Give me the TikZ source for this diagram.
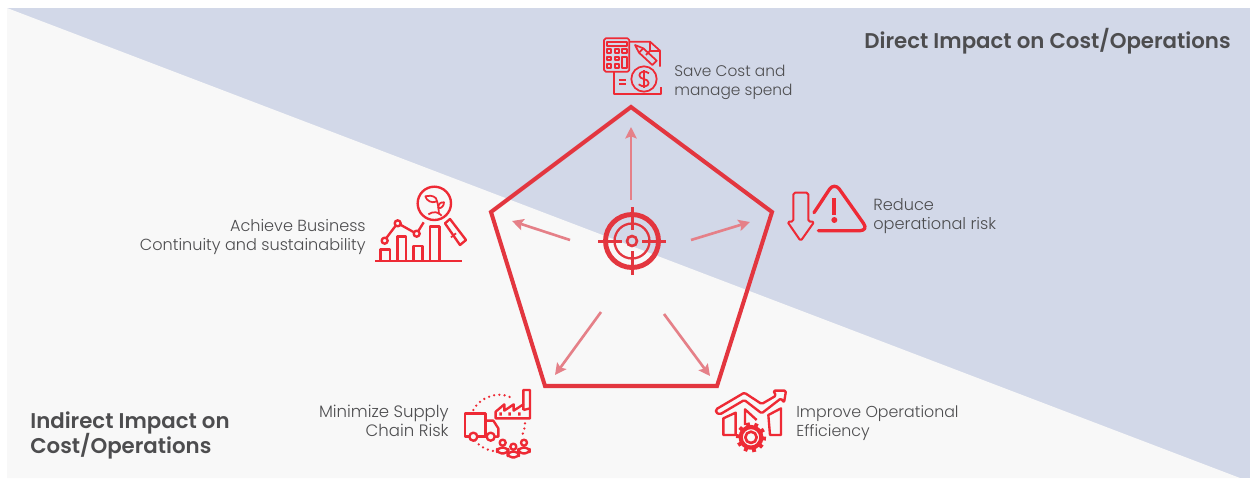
\documentclass[tikz,border=0pt]{standalone}
\usepackage{fontspec}
\setmainfont{Poppins}
\newfontfamily\lablight{Poppins Light}
\newfontfamily\headbold{Poppins SemiBold}
\definecolor{bgblue}{HTML}{D2D8E8}
\definecolor{bggrey}{HTML}{F8F8F8}
\definecolor{penta}{HTML}{E3363F}
\definecolor{icon}{HTML}{EE2A35}
\definecolor{ray}{HTML}{E58088}
\definecolor{txt}{HTML}{4D4D4F}
\usetikzlibrary{arrows.meta}
\newcommand{\myheadfont}{\headbold\fontsize{12.13}{14.2}\selectfont\setlength{\lineskiplimit}{-6pt}}
\tikzset{
  lab/.style={font=\lablight\fontsize{#1}{10.9}\selectfont,text=txt,inner sep=0pt},
  head/.style={font=\myheadfont,text=txt,inner sep=0pt},
  rayline/.style={draw=ray,line width=1.5pt,-{Stealth[length=6.5pt,width=6.5pt,inset=1.2pt]}},
  ic/.style={draw=icon,line width=1.35pt,line join=round,fill=none},
  icthin/.style={draw=icon,line width=1pt,line join=round,fill=none},
  dots/.style={draw=icon,line width=1.45pt,line cap=round,dash pattern=on 0pt off 3pt},
  tgt/.style={draw=penta,fill=none}
}
\begin{document}
\begin{tikzpicture}[x=0.02cm,y=-0.02cm]
\useasboundingbox (0,0) rectangle (1250,478);
\fill[bgblue] (7,8) rectangle (1250,478);
\fill[bggrey] (7,8) -- (1240,478) -- (7,478) -- cycle;
% pentagon
\coordinate (pt) at (631,107);
\coordinate (pr) at (772,212);
\coordinate (pbr) at (717,386);
\coordinate (pbl) at (545,386);
\coordinate (pl) at (491,212);
\draw[penta,line width=2.3pt,line join=miter] (pt) -- (pr) -- (pbr) -- (pbl) -- (pl) -- cycle;
% rays
\coordinate (a1s) at (631,200); \coordinate (a1e) at (631,127);
\coordinate (a2s) at (691,240); \coordinate (a2e) at (750,222);
\coordinate (a3s) at (570,240); \coordinate (a3e) at (512,221);
\coordinate (a4s) at (601,312); \coordinate (a4e) at (555,375);
\coordinate (a5s) at (664,314); \coordinate (a5e) at (710,376);
\draw[rayline] (a1s) -- (a1e);
\draw[rayline] (a2s) -- (a2e);
\draw[rayline] (a3s) -- (a3e);
\draw[rayline] (a4s) -- (a4e);
\draw[rayline] (a5s) -- (a5e);
% target
\begin{scope}[shift={(632,241)}]
\draw[tgt,line width=2.8pt] (0,0) circle (26.5);
\draw[tgt,line width=1.3pt] (0,0) circle (17.5);
\draw[tgt,line width=1.5pt] (0,0) circle (5);
\draw[tgt,line width=1.7pt] (-34,0) -- (-10,0) (10,0) -- (34,0) (0,-34) -- (0,-11) (0,10) -- (0,34);
\end{scope}
% icon 1
\begin{scope}[shift={(590,20)},scale=1/3]
\draw[icthin,rounded corners=1pt] (42,55) rectangle (118,155);
\draw[icthin] (52,65) rectangle (110,78);
\foreach \x in {52,74} \foreach \y in {87,110,133} \draw[icthin] (\x,\y) rectangle ++(12,11);
\draw[icthin] (97,87) rectangle (110,98);
\draw[icthin] (97,110) rectangle (110,145);
\draw[icthin] (118,65) -- (180,65) -- (210,92) -- (210,140);
\draw[icthin] (180,65) -- (180,92) -- (210,92);
\draw[icthin] (72,155) -- (72,222) -- (212,222) -- (212,200);
\draw[icthin] (135,75) -- (160,85) -- (200,122) -- (187,135) -- (147,98) -- cycle;
\draw[icthin] (147,98) -- (160,85) (168,105) -- (180,92);
\draw[icthin] (162,177) circle (38);
\draw[icthin] (177,160) .. controls (165,150) and (148,155) .. (148,166) .. controls (148,180) and (176,174) .. (176,189) .. controls (176,200) and (158,203) .. (146,193);
\draw[icthin] (161,150) -- (161,205);
\draw[icthin,line width=1.1pt] (88,180) -- (108,180) (88,193) -- (108,193);
\end{scope}
% icon 2
\begin{scope}[shift={(770,170)},scale=1/3]
\draw[ic,line width=1.15pt,rounded corners=1pt] (70,68) -- (115,68) -- (115,155) -- (133,155) -- (92,213) -- (52,155) -- (70,155) -- cycle;
\draw[ic,line width=1.9pt,rounded corners=5pt,line cap=round] (132,128) -- (193,36) -- (296,182) -- (145,182);
\draw[icon,line width=2.4pt] (193,85) -- (193,135);
\fill[icon] (193,150) circle (9);
\end{scope}
% icon 3
\begin{scope}[shift={(370,175)},scale=1/3]
\draw[ic] (15,258) -- (275,258);
\draw[ic] (32,258) -- (32,223) -- (60,223) -- (60,258);
\draw[ic] (82,258) -- (82,185) -- (108,185) -- (108,258);
\draw[ic] (130,258) -- (130,213) -- (157,213) -- (157,258);
\draw[ic] (180,258) -- (180,155) -- (208,155) -- (208,258);
\draw[ic] (44,197) circle (9) (83,145) circle (9) (140,176) circle (9);
\draw[ic] (49,189) -- (77,152) (91,149) -- (132,172) (145,168) -- (161,142);
\draw[ic] (193,85) circle (50);
\draw[ic] (225,145) -- (240,132) -- (288,195) -- (270,210) -- cycle;
\draw[icthin] (258,175) -- (243,187);
\draw[icthin] (207,118) .. controls (205,95) and (205,88) .. (198,70) .. controls (190,60) and (175,62) .. (166,64) .. controls (170,78) and (185,85) .. (198,80);
\draw[icthin] (205,100) .. controls (215,100) and (222,92) .. (222,82) .. controls (212,80) and (203,88) .. (205,100);
\draw[icthin] (175,118) .. controls (190,108) and (205,110) .. (215,122);
\end{scope}
% icon 4
\begin{scope}[shift={(455,380)},scale=1/3]
\draw[dots] (55,90) .. controls (75,50) and (135,30) .. (172,55);
\draw[dots] (210,130) .. controls (210,145) and (205,160) .. (197,175);
\draw[dots] (60,182) .. controls (75,200) and (95,210) .. (115,213);
\draw[ic] (30,165) -- (30,100) -- (92,100) -- (92,165);
\draw[ic] (92,122) -- (115,122) -- (130,145) -- (130,170) -- (119,170);
\draw[ic] (30,160) -- (30,170) -- (43,170) (67,170) -- (95,170);
\draw[ic] (55,170) circle (12) (107,170) circle (12);
\draw[ic] (122,115) -- (122,95) -- (148,73) -- (148,92) -- (176,73) -- (176,92) -- (205,73) -- (205,30) -- (225,30) -- (225,115) -- cycle;
\draw[ic] (205,73) -- (205,90) (137,97) -- (137,107) (164,97) -- (164,107) (193,97) -- (193,107) (205,90) -- (225,85);
\foreach \cx/\cy in {143/188,207/188,175/200}{
  \draw[ic,fill=bggrey,rounded corners=2.5pt] (\cx-17,\cy+32) -- (\cx-17,\cy+15) -- (\cx+17,\cy+15) -- (\cx+17,\cy+32) -- cycle;
  \draw[ic,fill=bggrey] (\cx,\cy) circle (9);
}
\end{scope}
% icon 5
\begin{scope}[shift={(705,380)},scale=1/3]
\draw[ic] (55,165) -- (55,115) -- (92,98) -- (92,165) -- cycle;
\draw[ic] (120,135) -- (120,88) -- (155,120);
\draw[ic] (195,165) -- (190,105) -- (228,85) -- (228,165) -- cycle;
\draw[ic,fill=bggrey,rounded corners=0.8pt] (33,88) -- (118,38) -- (170,72) -- (213,47) -- (205,32) -- (243,32) -- (237,68) -- (228,55) -- (170,100) -- (118,60) -- (45,103) -- (33,98) -- cycle;
\begin{scope}[shift={(138,172)}]
\fill[bggrey] (0,0) circle (34);
\foreach \a in {0,36,...,324} \draw[icon,line width=2.2pt] (\a+5:32) -- (\a+5:45);
\draw[ic,line width=2.4pt,fill=bggrey] (0,0) circle (31);
\draw[ic,line width=1.5pt] (0,0) circle (17);
\end{scope}
\end{scope}
% texts
\node[head,anchor=base east] (t1) at (1231,48) {Direct Impact on Cost/Operations};
\node[head,anchor=west,align=left] (t2) at (30,435) {Indirect Impact on\\Cost/Operations};
\node[lab=8.75,anchor=west,align=left] (l1) at (674,82) {Save Cost and\\manage spend};
\node[lab=9.2,anchor=west,align=left] (l2) at (873,216) {Reduce\\operational risk};
\node[lab=9.15,anchor=east,align=right] (l3) at (366,237) {Achieve Business\\Continuity and sustainability};
\node[lab=9.4,anchor=east,align=right] (l4) at (449,421) {Minimize Supply\\Chain Risk};
\node[lab=9,anchor=west,align=left] (l5) at (796,423) {Improve Operational\\Efficiency};
\end{tikzpicture}
\end{document}
